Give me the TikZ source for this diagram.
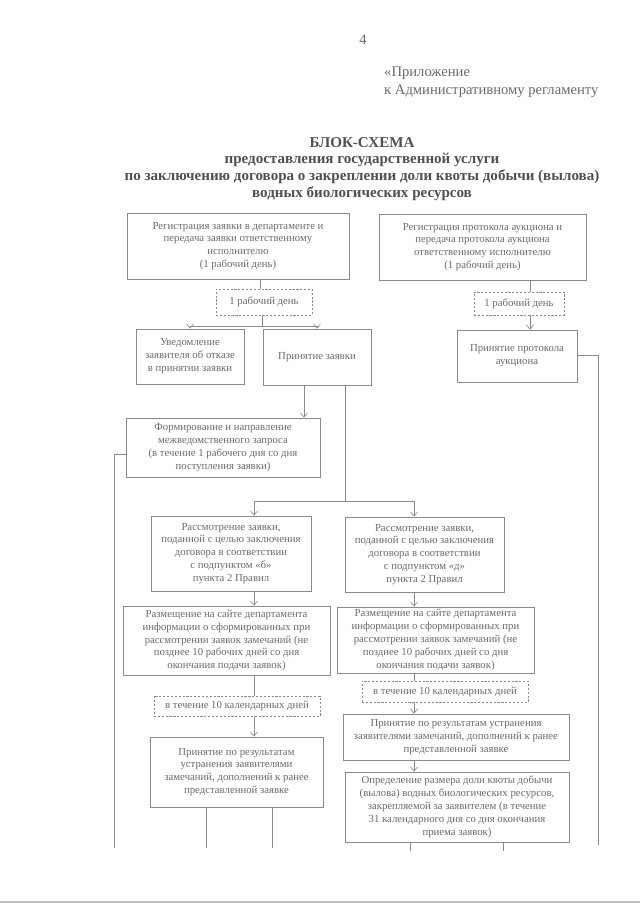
\documentclass[tikz,border=0pt]{standalone}
\usepackage{fontspec}
\setmainfont{Liberation Serif}
\usetikzlibrary{arrows.meta}
\newlength\pxu
\setlength\pxu{0.93pt}
\definecolor{ln}{HTML}{8A8A8A}
\definecolor{tx}{HTML}{6A6A6A}
\definecolor{tt}{HTML}{505050}
\tikzset{
  base/.style={draw=ln, line width=0.6pt, align=center, text=tx, inner sep=1pt,
    font=\fontsize{10}{12}\selectfont},
  boxs/.style={base},
  dbox/.style={base, dashed, dash pattern=on 2pt off 1.6pt},
  conn/.style={draw=ln, line width=0.6pt},
  arr/.style={conn, -{Straight Barb[length=4pt,width=6.5pt]}},
  ttl/.style={text=tt, font=\fontsize{14}{15}\selectfont\bfseries, inner sep=0pt},
  hdr/.style={text=tx, font=\fontsize{13.6}{15}\selectfont, inner sep=0pt},
}
\begin{document}
\begin{tikzpicture}[x=\pxu, y=-\pxu]
\useasboundingbox (0,0) rectangle (640,905);
% header
\node[hdr] (pg) at (363,40) {4};
\node[hdr, anchor=west] (h1) at (384,73) {«Приложение};
\node[hdr, anchor=west] (h2) at (384,91) {к Административному регламенту};
\node[ttl] (t1) at (362,143) {БЛОК-СХЕМА};
\node[ttl] (t2) at (362,160) {предоставления государственной услуги};
\node[ttl] (t3) at (362,177) {по заключению договора о закреплении доли квоты добычи (вылова)};
\node[ttl] (t4) at (362,194) {водных биологических ресурсов};
% boxes
\node[boxs, minimum width=222\pxu, minimum height=66\pxu] (regz) at (238,246)
 {Регистрация заявки в департаменте и\\передача заявки ответственному\\исполнителю\\(1 рабочий день)};
\node[boxs, minimum width=207\pxu, minimum height=66\pxu] (regp) at (482.5,247)
 {Регистрация протокола аукциона и\\передача протокола аукциона\\ответственному исполнителю\\(1 рабочий день)};
\node[dbox, minimum width=96\pxu, minimum height=26\pxu] (d1) at (264,302) {1 рабочий день};
\node[dbox, minimum width=90\pxu, minimum height=23\pxu] (d2) at (519,303.5) {1 рабочий день};
\node[boxs, minimum width=108\pxu, minimum height=55\pxu] (uved) at (190,356.5)
 {Уведомление\\заявителя об отказе\\в принятии заявки};
\node[boxs, minimum width=108\pxu, minimum height=56\pxu] (prz) at (317,357) {Принятие заявки};
\node[boxs, minimum width=120\pxu, minimum height=52\pxu] (prp) at (517,356) {Принятие протокола\\аукциона};
\node[boxs, minimum width=194\pxu, minimum height=59\pxu] (form) at (223,447.5)
 {Формирование и направление\\межведомственного запроса\\(в течение 1 рабочего дня со дня\\поступления заявки)};
\node[boxs, minimum width=160\pxu, minimum height=75\pxu] (rasB) at (231,553.5)
 {Рассмотрение заявки,\\поданной с целью заключения\\договора в соответствии\\с подпунктом «б»\\пункта 2 Правил};
\node[boxs, minimum width=159\pxu, minimum height=75\pxu] (rasD) at (424.5,554.5)
 {Рассмотрение заявки,\\поданной с целью заключения\\договора в соответствии\\с подпунктом «д»\\пункта 2 Правил};
\node[boxs, minimum width=207\pxu, minimum height=69\pxu] (razL) at (226.5,640.5)
 {Размещение на сайте департамента\\информации о сформированных при\\рассмотрении заявок замечаний (не\\позднее 10 рабочих дней со дня\\окончания подачи заявок)};
\node[boxs, minimum width=197\pxu, minimum height=66\pxu] (razR) at (435.5,640)
 {Размещение на сайте департамента\\информации о сформированных при\\рассмотрении заявок замечаний (не\\позднее 10 рабочих дней со дня\\окончания подачи заявок)};
\node[dbox, minimum width=166\pxu, minimum height=20\pxu] (d3) at (237,706) {в течение 10 календарных дней};
\node[dbox, minimum width=166\pxu, minimum height=21\pxu] (d4) at (445,691.5) {в течение 10 календарных дней};
\node[boxs, minimum width=173\pxu, minimum height=70\pxu] (prL) at (236.5,772)
 {Принятие по результатам\\устранения заявителями\\замечаний, дополнений к ранее\\представленной заявке};
\node[boxs, minimum width=226\pxu, minimum height=46\pxu] (prR) at (456,737)
 {Принятие по результатам устранения\\заявителями замечаний, дополнений к ранее\\представленной заявке};
\node[boxs, minimum width=224\pxu, minimum height=70\pxu] (opr) at (457,807)
 {Определение размера доли квоты добычи\\(вылова) водных биологических ресурсов,\\закрепляемой за заявителем (в течение\\31 календарного дня со дня окончания\\приема заявок)};
% helper coordinates
\coordinate (c1) at (260,0);
\coordinate (j1) at (262,326);
\coordinate (c2) at (530,0);
\coordinate (c3) at (304,0);
\coordinate (j2) at (345,501);
\coordinate (colL) at (254,0);
\coordinate (colR) at (414,0);
\coordinate (lA) at (114,454);
\coordinate (lB) at (114,848);
\coordinate (rA) at (598,355);
\coordinate (rB) at (598,845);
\coordinate (b1) at (206,848);
\coordinate (b2) at (272,848);
\coordinate (b3) at (410,851);
\coordinate (b4) at (503,851);
\coordinate (e1) at (0,902);
\coordinate (e2) at (640,902);
% connectors
\draw[conn] (regz.south -| c1) -- (d1.north -| c1);
\draw[conn] (d1.south -| j1) -- (j1);
\draw[arr] (j1) -| (uved.north);
\draw[arr] (j1) -| (prz.north);
\draw[conn] (regp.south -| c2) -- (d2.north -| c2);
\draw[arr] (d2.south -| c2) -- (prp.north -| c2);
\draw[arr] (prz.south -| c3) -- (form.north -| c3);
\draw[conn] (prz.south -| j2) -- (j2);
\draw[arr] (j2) -| (rasB.north -| colL);
\draw[arr] (j2) -| (rasD.north -| colR);
\draw[arr] (rasB.south -| colL) -- (razL.north -| colL);
\draw[arr] (rasD.south -| colR) -- (razR.north -| colR);
\draw[conn] (razL.south -| colL) -- (d3.north -| colL);
\draw[arr] (d3.south -| colL) -- (prL.north -| colL);
\draw[conn] (razR.south -| colR) -- (d4.north -| colR);
\draw[arr] (d4.south -| colR) -- (prR.north -| colR);
\draw[arr] (prR.south -| colR) -- (opr.north -| colR);
\draw[conn] (form.west |- lA) -- (lA) -- (lB);
\draw[conn] (prp.east |- rA) -- (rA) -- (rB);
\draw[conn] (prL.south -| b1) -- (b1);
\draw[conn] (prL.south -| b2) -- (b2);
\draw[conn] (opr.south -| b3) -- (b3);
\draw[conn] (opr.south -| b4) -- (b4);
\draw[draw=black!25, line width=1pt] (e1) -- (e2);
\end{tikzpicture}
\end{document}
